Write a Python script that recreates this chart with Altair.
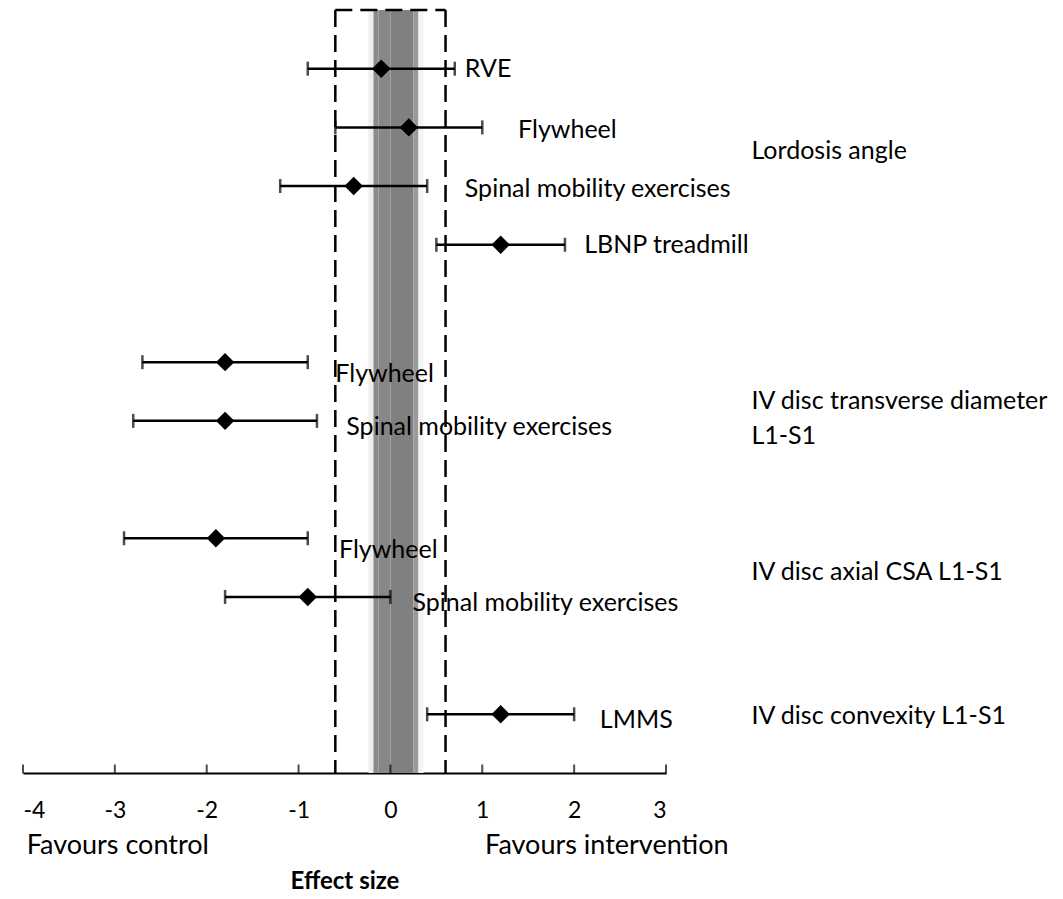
import altair as alt
import pandas as pd

# Forest plot: effect size (point estimate with 95% CI) of each countermeasure
interventions = [
    "RVE", "Flywheel", "Spinal mobility exercises", "LBNP treadmill",
    "Flywheel", "Spinal mobility exercises",
    "Flywheel", "Spinal mobility exercises",
    "LMMS",
]
rows = [1, 2, 3, 4, 6, 7, 9, 10, 12]
effect = [-0.1, 0.2, -0.4, 1.2, -1.8, -1.8, -1.9, -0.9, 1.2]
ci_low = [-0.9, -0.6, -1.2, 0.5, -2.7, -2.8, -2.9, -1.8, 0.4]
ci_high = [0.7, 1.0, 0.4, 1.9, -0.9, -0.8, -0.9, 0.0, 2.0]

# where each intervention name sits (x in effect-size units, y in row units)
label_x = [0.81, 1.39, 0.81, 2.11, -0.60, -0.48, -0.56, 0.24, 2.28]
label_row = [1.0, 2.05, 3.05, 4.0, 6.2, 7.1, 9.2, 10.1, 12.1]

# outcome measures listed at the right
outcomes = ["Lordosis angle", "IV disc transverse diameter\nL1-S1",
            "IV disc axial CSA L1-S1", "IV disc convexity L1-S1"]
outcome_row = [2.4, 6.66, 9.58, 12.03]
outcome_x = 3.93

# shaded zone of trivial effect, built from adjacent strips
band_lo = [-0.24, -0.185, -0.13, 0.0, 0.25, 0.305]
band_hi = [-0.185, -0.13, 0.0, 0.25, 0.305, 0.36]
band_color = ["#efefef", "#8c8c8c", "#878787", "#808080", "#9a9a9a", "#f4f4f4"]

# dashed box around the zone of small effects
box_lo, box_hi = -0.6, 0.6

axis_ticks = [-4, -3, -2, -1, 0, 1, 2, 3]
row_top, row_bottom = 0, 13

FONT = "Lato"

xs = alt.Scale(domain=[-4, 3], nice=False, zero=False)
ys = alt.Scale(domain=[row_top, row_bottom], nice=False, zero=False, reverse=True)
x_axis = alt.Axis(values=axis_ticks, labelExpr="'' + datum.value", domainColor="black",
                  domainWidth=2, ticks=False, grid=False,
                  labelFont=FONT, labelFontSize=23, labelColor="black",
                  labelPadding=26, titleFont=FONT, titleFontSize=24,
                  titleFontWeight="bold", titleColor="black",
                  titlePadding=47)


def X(field):
    return alt.X(field, type="quantitative", scale=xs, axis=x_axis, title="Effect size")


def Y(field):
    return alt.Y(field, type="quantitative", scale=ys, axis=None)


studies = pd.DataFrame({
    "intervention": interventions, "row": rows, "effect": effect,
    "lo": ci_low, "hi": ci_high, "lx": label_x, "ly": label_row,
})
bands = pd.DataFrame({"lo": band_lo, "hi": band_hi, "c": band_color,
                      "top": row_top, "bottom": row_bottom})
box_sides = pd.DataFrame({"x": [box_lo, box_hi], "top": row_top, "bottom": row_bottom})
box_top = pd.DataFrame({"lo": [box_lo], "hi": [box_hi], "y": [row_top]})
ticks = pd.DataFrame({"t": axis_ticks, "y": row_bottom})
outcome_df = pd.DataFrame({"text": outcomes, "row": outcome_row, "x": outcome_x})
side_notes = pd.DataFrame({"text": ["Favours control", "Favours intervention"],
                           "x": [-3.96, 1.03], "y": row_bottom})

band = alt.Chart(bands).mark_rect().encode(
    x=X("lo"), x2="hi", y=Y("top"), y2="bottom",
    color=alt.Color("c:N", scale=None),
)

dash = [17, 8]
sides = alt.Chart(box_sides).mark_rule(color="black", strokeWidth=2.5, strokeDash=dash).encode(
    x=X("x"), y=Y("top"), y2="bottom",
)
top = alt.Chart(box_top).mark_rule(color="black", strokeWidth=2.5, strokeDash=dash).encode(
    x=X("lo"), x2="hi", y=Y("y"),
)

axis_ticks_layer = alt.Chart(ticks).mark_tick(
    color="black", orient="vertical", size=9, thickness=2, yOffset=-4
).encode(x=X("t"), y=Y("y"))

ci = alt.Chart(studies).mark_rule(color="black", strokeWidth=2.5).encode(
    x=X("lo"), x2="hi", y=Y("row"),
)
cap_lo = alt.Chart(studies).mark_tick(color="black", orient="vertical", size=14, thickness=2.5).encode(
    x=X("lo"), y=Y("row"),
)
cap_hi = alt.Chart(studies).mark_tick(color="black", orient="vertical", size=14, thickness=2.5).encode(
    x=X("hi"), y=Y("row"),
)
points = alt.Chart(studies).mark_point(shape="diamond", filled=True, color="black",
                                        opacity=1, size=340).encode(
    x=X("effect"), y=Y("row"),
)
names = alt.Chart(studies).mark_text(align="left", baseline="middle", font=FONT,
                                      fontSize=25, color="black").encode(
    x=X("lx"), y=Y("ly"), text="intervention:N",
)
outcome_text = alt.Chart(outcome_df).mark_text(align="left", baseline="middle", font=FONT,
                                               fontSize=25, color="black", lineBreak="\n",
                                               lineHeight=35).encode(
    x=X("x"), y=Y("row"), text="text:N",
)
notes = alt.Chart(side_notes).mark_text(align="left", baseline="middle", font=FONT,
                                         fontSize=27, color="black", dy=73).encode(
    x=X("x"), y=Y("y"), text="text:N",
)

chart = alt.layer(
    band, sides, top, axis_ticks_layer, ci, cap_lo, cap_hi, points, names, outcome_text, notes
).properties(
    width=643, height=763,
    padding={"left": 23, "top": 10, "right": 397, "bottom": 126},
    autosize=alt.AutoSizeParams(type="none"),
    background="white",
).configure_view(stroke=None)

chart.save("out.html", embed_options={"renderer": "svg", "actions": False})
